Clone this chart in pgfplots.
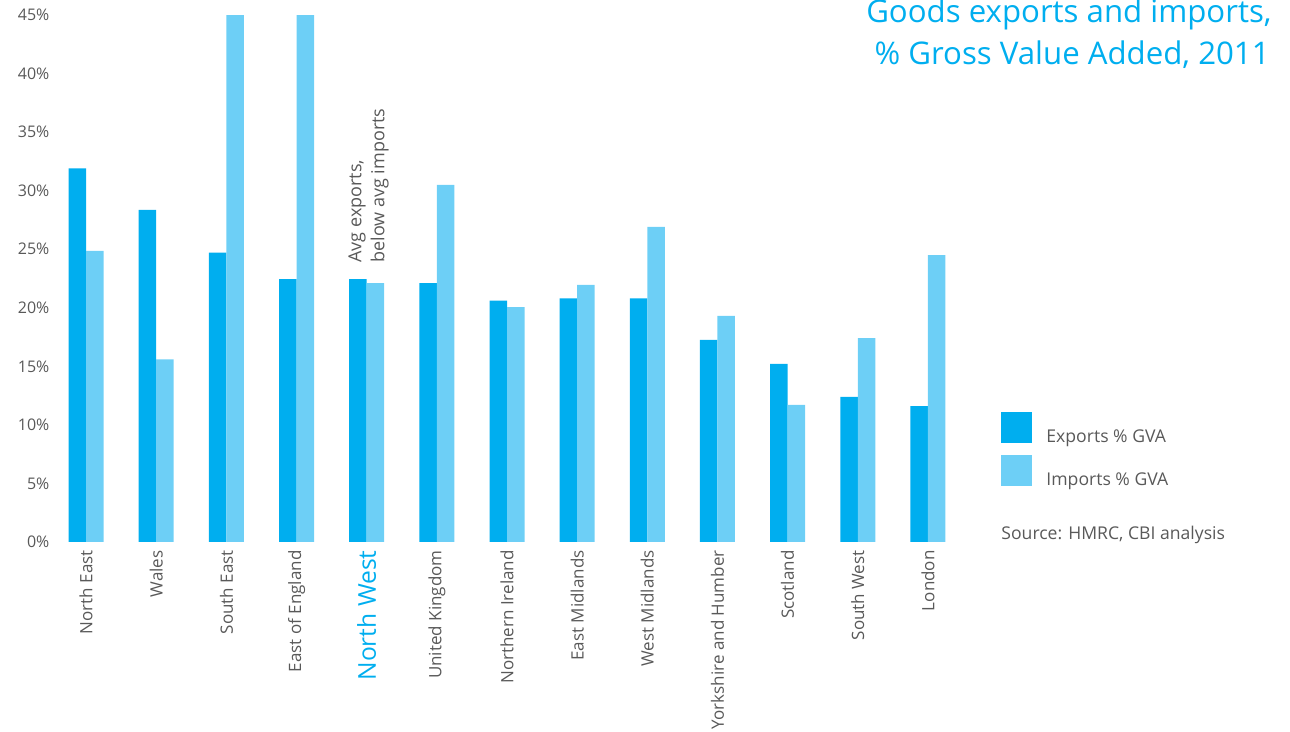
\documentclass[border=0pt]{standalone}
\usepackage{fontspec}
\setmainfont{Open Sans}
\usepackage{pgfplots}
\pgfplotsset{compat=1.18}
\definecolor{expc}{HTML}{00AEEF}
\definecolor{impc}{HTML}{6DCFF6}
\definecolor{txt}{HTML}{595959}
\begin{document}
\begin{tikzpicture}
\useasboundingbox (0pt,0pt) rectangle (645pt,366pt);
\begin{axis}[
  at={(25.5pt,95pt)}, anchor=south west,
  scale only axis, width=456pt, height=263.5pt,
  xmin=-0.5, xmax=12.5, ymin=0, ymax=45,
  axis line style={draw=none},
  major tick length=0pt,
  ytick={0,5,...,45},
  yticklabel={\pgfmathprintnumber{\tick}\%},
  /pgf/number format/assume math mode=true,
  yticklabel style={font=\fontsize{8}{9}\selectfont, text=txt, inner sep=0.6pt},
  xtick={0,...,12},
  xticklabels={North East, Wales, South East, East of England,
    {\color{expc}\fontsize{12.3}{13}\selectfont North West},
    United Kingdom, Northern Ireland, East Midlands, West Midlands,
    Yorkshire and Humber, Scotland, South West, London},
  xticklabel style={rotate=90, anchor=east, inner sep=0pt, font=\fontsize{8.5}{9}\selectfont, text=txt},
  xticklabel shift=4pt,
  ybar, bar width=8.75pt,
  legend style={draw=none, fill=none, at={(1.0417,0.2467)}, anchor=north west,
    inner sep=0pt, row sep=5pt, font=\fontsize{8.8}{10}\selectfont, text=txt,
    nodes={inner sep=0pt}},
  legend cell align=left,
  legend image code/.code={\fill[#1] (0pt,-3pt) rectangle (15.5pt,12.5pt); \path (22.5pt,0pt);},
]
\addplot[fill=expc, draw=none, bar shift=-4.375pt] coordinates {
(0,31.9) (1,28.35) (2,24.7) (3,22.45) (4,22.45) (5,22.1) (6,20.6) (7,20.8) (8,20.8) (9,17.25) (10,15.2) (11,12.4) (12,11.6)};
\addplot[fill=impc, draw=none, bar shift=4.375pt] coordinates {
(0,24.85) (1,15.6) (2,45) (3,45) (4,22.1) (5,30.5) (6,20.05) (7,21.95) (8,26.9) (9,19.3) (10,11.7) (11,17.4) (12,24.5)};
\legend{Exports \% GVA, Imports \% GVA}
\end{axis}
\node[anchor=base east, text=expc, font=\fontsize{15.6}{17}\selectfont, inner sep=0pt] at (636pt,354.5pt) {Goods exports and imports,};
\node[anchor=base east, text=expc, font=\fontsize{15.6}{17}\selectfont, inner sep=0pt] at (635pt,333.5pt) {\% Gross Value Added, 2011};
\node[anchor=base west, text=txt, font=\fontsize{8.8}{10}\selectfont, inner sep=0pt] at (500.5pt,96pt) {Source: HMRC, CBI analysis};
\node[rotate=90, anchor=north west, align=left, text=txt, font=\fontsize{9}{11.5}\selectfont, inner sep=0pt] at (174pt,234.5pt) {Avg exports,\\below avg imports};
\end{tikzpicture}
\end{document}
